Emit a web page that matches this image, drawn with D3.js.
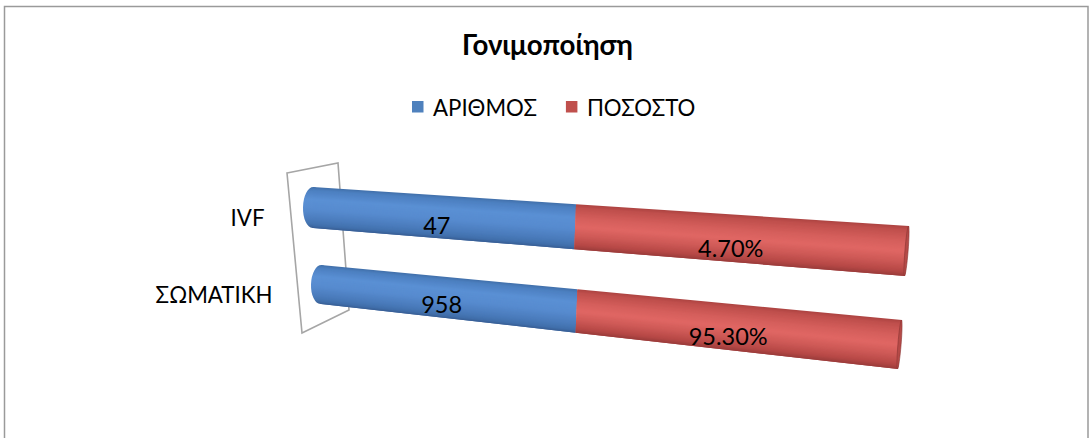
<!DOCTYPE html>
<html>
<head>
<meta charset="utf-8">
<script src="https://cdn.jsdelivr.net/npm/d3@7"></script>
<style>
  html, body { margin: 0; padding: 0; background: #fff; }
  svg { display: block; }
  text { font-family: Lato, "Open Sans", "Noto Sans", "DejaVu Sans", sans-serif; fill: #000; }
</style>
</head>
<body>
<svg id="chart" width="1089" height="438"></svg>
<script>
// ---------------- data ----------------
const chartTitle = "Γονιμοποίηση";
const categories = ["IVF", "ΣΩΜΑΤΙΚΗ"];
const seriesNames = ["ΑΡΙΘΜΟΣ", "ΠΟΣΟΣΤΟ"];
const countValues = [47, 958];          // ΑΡΙΘΜΟΣ
const percentValues = [4.70, 95.30];    // ΠΟΣΟΣΤΟ (%)
const seriesColors = ["#4f81bd", "#c0504d"];

// ---------------- setup ----------------
const svg = d3.select("#chart");

const fmtCount = d3.format("d");
const fmtPct = v => d3.format(".2f")(v) + "%";
const seriesValues = [countValues, percentValues];
const seriesFormats = [fmtCount, fmtPct];

// fit a text element's font-size so that it spans a target width
function fitSize(sel, target) {
  sel.attr("font-size", 20);
  const w = sel.node().getComputedTextLength();
  const s = 20 * target / w;
  sel.attr("font-size", s);
  return s;
}

// outer chart border
svg.append("rect")
  .attr("x", 4.5).attr("y", 6.5)
  .attr("width", 1083.5).attr("height", 460)
  .attr("fill", "#fff").attr("stroke", "#9a9a9a").attr("stroke-width", 1.5);

// title
const titleText = svg.append("text")
  .attr("x", 547.5).attr("y", 55)
  .attr("text-anchor", "middle")
  .attr("font-weight", "bold")
  .text(chartTitle);
fitSize(titleText, 171);

// legend
const legend = svg.append("g");
let lx = 412;
const legendProbe = svg.append("text").text(seriesNames[0]);
const legendSize = fitSize(legendProbe, 104);
legendProbe.remove();
seriesNames.forEach((name, i) => {
  legend.append("rect")
    .attr("x", lx).attr("y", 101)
    .attr("width", 11.5).attr("height", 11.5)
    .attr("fill", seriesColors[i]);
  const t = legend.append("text")
    .attr("x", lx + 21).attr("y", 116)
    .attr("font-size", legendSize)
    .text(name);
  lx += 21 + t.node().getComputedTextLength() + 29;
});

// ---------------- 3D-ish cylinder geometry via scales ----------------
const row = d3.scalePoint().domain(categories).range([0, 1]);
const along = d3.scaleBand().domain(seriesNames).range([0, 1]).paddingInner(0);

const leftX   = d3.scaleLinear().domain([0, 1]).range([313, 321]);
const rightX  = d3.scaleLinear().domain([0, 1]).range([907, 900]);
const leftCY  = d3.scaleLinear().domain([0, 1]).range([207.5, 284.5]);
const rightCY = d3.scaleLinear().domain([0, 1]).range([251, 344.5]);
const leftTh  = d3.scaleLinear().domain([0, 1]).range([41, 39]);
const rightTh = d3.scaleLinear().domain([0, 1]).range([50, 49]);
const tiltEnd = 4;
const k = 0.79; // perspective foreshortening
const persp = u => k * u / (1 + (k - 1) * u);

function geom(cat, u) {
  const r = row(cat), p = persp(u);
  const cx = leftX(r) + (rightX(r) - leftX(r)) * p;
  const cy = leftCY(r) + (rightCY(r) - leftCY(r)) * p;
  const th = leftTh(r) + (rightTh(r) - leftTh(r)) * p;
  return { cx, cy, th, tilt: tiltEnd * p };
}
function pt(cat, u, f) {
  const g = geom(cat, u);
  return [g.cx + g.tilt * (0.5 - f), g.cy + g.th * (f - 0.5)];
}

// shading ramps across the cylinder (top -> bottom)
const ramps = [
  d3.scaleLinear()
    .domain([0, 0.08, 0.3, 0.55, 0.8, 0.93, 1])
    .range(["#4170a9", "#4c7fc0", "#5a90d4", "#578bcf", "#4a7bbb", "#4170ac", "#385e95"]),
  d3.scaleLinear()
    .domain([0, 0.08, 0.3, 0.5, 0.7, 0.9, 1])
    .range(["#ac4341", "#bf4f4c", "#d45e5b", "#e06764", "#cf5a57", "#b64846", "#9b3c3b"])
];

// back wall (axis plane)
svg.append("path")
  .attr("d", d3.line()([[287, 173], [338, 163], [349, 310], [302, 333]]) + "Z")
  .attr("fill", "#fff").attr("stroke", "#a6a6a6").attr("stroke-width", 1.6);

const defs = svg.append("defs");
seriesNames.forEach((s, i) => {
  const gr = defs.append("linearGradient").attr("id", "cap" + i)
    .attr("x1", 0).attr("y1", 0).attr("x2", 0).attr("y2", 1);
  d3.range(0, 1.0001, 0.1).forEach(o => {
    gr.append("stop").attr("offset", o).attr("stop-color", ramps[i](o));
  });
});

const N = 40;
const lineGen = d3.line();
categories.forEach((cat, ci) => {
  const g = svg.append("g");
  // left rounded cap
  const g0 = geom(cat, 0);
  const ang = Math.atan2(rightCY(row(cat)) - leftCY(row(cat)), rightX(row(cat)) - leftX(row(cat))) * 180 / Math.PI;
  g.append("ellipse")
    .attr("cx", g0.cx).attr("cy", g0.cy)
    .attr("rx", 10).attr("ry", g0.th / 2)
    .attr("transform", `rotate(${ang * 0.3},${g0.cx},${g0.cy})`)
    .attr("fill", "url(#cap0)");
  // body segments: overlapping strips (no stroke) to avoid seams
  seriesNames.forEach((s, si) => {
    const u0 = along(s), u1 = u0 + along.bandwidth();
    for (let j = 0; j < N; j++) {
      const f0 = j / N, f1 = Math.min(1, (j + 2.2) / N);
      const col = ramps[si]((j + 0.5) / N);
      g.append("path")
        .attr("d", lineGen([pt(cat, u0, f0), pt(cat, u1, f0), pt(cat, u1, f1), pt(cat, u0, f1)]) + "Z")
        .attr("fill", col);
    }
  });
  // right end rim
  const gr = geom(cat, 1);
  const endAng = Math.atan2(gr.tilt, gr.th) * 180 / Math.PI;
  g.append("ellipse")
    .attr("cx", gr.cx - 0.5).attr("cy", gr.cy)
    .attr("rx", 1.6).attr("ry", gr.th / 2)
    .attr("transform", `rotate(${endAng},${gr.cx},${gr.cy})`)
    .attr("fill", "#b54a47").attr("stroke", "#8a3634").attr("stroke-width", 0.6);
});

// category labels
const catProbe = svg.append("text").text(categories[1]);
const catSize = fitSize(catProbe, 117);
catProbe.remove();
svg.append("g").selectAll("text").data(categories).join("text")
  .attr("x", d => leftX(row(d)) - 48.5)
  .attr("y", d => leftCY(row(d)) + 18)
  .attr("text-anchor", "end")
  .attr("font-size", catSize)
  .text(d => d);

// data labels
const lblProbe = svg.append("text").text(fmtPct(percentValues[1]));
const lblSize = fitSize(lblProbe, 79);
lblProbe.remove();
const labels = [];
seriesNames.forEach((s, si) => {
  categories.forEach((cat, ci) => {
    const u = along(s) + along.bandwidth() / 2;
    const g = geom(cat, u);
    labels.push({ x: g.cx, y: g.cy + 0.4 * g.th, t: seriesFormats[si](seriesValues[si][ci]) });
  });
});
svg.append("g").selectAll("text").data(labels).join("text")
  .attr("x", d => d.x).attr("y", d => d.y)
  .attr("text-anchor", "middle")
  .attr("font-size", lblSize)
  .text(d => d.t);
</script>
</body>
</html>
